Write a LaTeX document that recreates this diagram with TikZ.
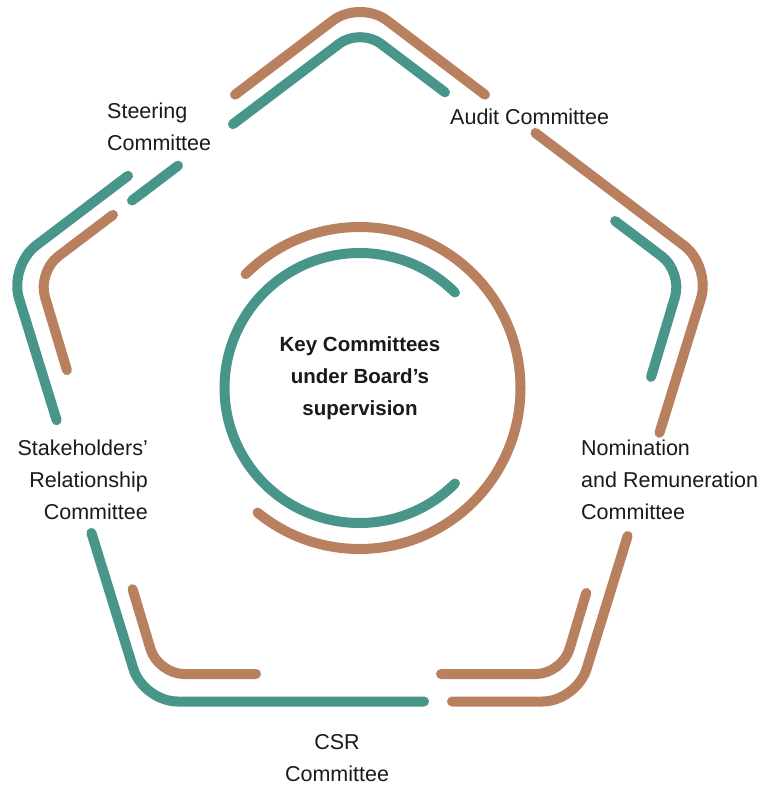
\documentclass[tikz,border=0pt]{standalone}
\usepackage{fontspec}
\setmainfont{Liberation Sans}
\usetikzlibrary{calc}
\definecolor{teal1}{HTML}{48968A}
\definecolor{brown1}{HTML}{B98060}
\definecolor{txt}{HTML}{1A1A1A}
\begin{document}
\begin{tikzpicture}[x=1pt,y=-1pt, line cap=round,
  tline/.style={draw=teal1, line width=10pt},
  bline/.style={draw=brown1, line width=10pt},
  lab/.style={font=\fontsize{21.5}{32}\selectfont, text=txt, inner sep=0pt}]
\fill[white] (0,0) rectangle (762,787);
\useasboundingbox (0,0) rectangle (762,787);
% outer pentagon corners
\coordinate (T) at (360,0);
\coordinate (R) at (711,266);
\coordinate (BR) at (576.5,701.5);
\coordinate (BL) at (143.5,701.5);
\coordinate (L) at (9,266);
% inner pentagon corners
\coordinate (Ti) at (360,28);
\coordinate (Ri) at (682.5,272);
\coordinate (BRi) at (562,674);
\coordinate (BLi) at (158,674);
\coordinate (Li) at (37.5,272);
% outer segments
\draw[bline, rounded corners=34pt] ($(L)!0.644!(T)$) -- (T) -- ($(R)!0.644!(T)$);
\draw[bline, rounded corners=34pt] ($(T)!0.5!(R)$) -- (R) -- ($(R)!0.383!(BR)$);
\draw[bline, rounded corners=34pt] ($(R)!0.62!(BR)$) -- (BR) -- ($(BR)!0.2875!(BL)$);
\draw[tline, rounded corners=34pt] ($(BR)!0.352!(BL)$) -- (BL) -- ($(BL)!0.387!(L)$);
\draw[tline, rounded corners=34pt] ($(L)!0.354!(BL)$) -- (L) -- ($(L)!0.339!(T)$);
% inner segments
\draw[tline, rounded corners=26pt] ($(Li)!0.606!(Ti)$) -- (Ti) -- ($(Ti)!0.2636!(Ri)$);
\draw[tline] ($(Li)!0.293!(Ti)$) -- ($(Li)!0.4357!(Ti)$);
\draw[bline, rounded corners=26pt] ($(Li)!0.234!(Ti)$) -- (Li) -- ($(Li)!0.244!(BLi)$);
\draw[bline, rounded corners=26pt] ($(Li)!0.789!(BLi)$) -- (BLi) -- ($(BLi)!0.2426!(BRi)$);
\draw[bline, rounded corners=26pt] ($(BLi)!0.7005!(BRi)$) -- (BRi) -- ($(BRi)!0.2015!(Ri)$);
\draw[tline, rounded corners=26pt] ($(Ti)!0.791!(Ri)$) -- (Ri) -- ($(Ri)!0.261!(BRi)$);
% circles
\coordinate (C) at (359.5,388);
\draw[tline] ($(C)+(45:135)$) arc[start angle=45, end angle=315, radius=135];
\draw[bline] ($(C)+(-135:161)$) arc[start angle=-135, end angle=129.3, radius=161];
% labels
\node[lab, anchor=west, align=left] (steer) at (107,127) {Steering\\Committee};
\node[lab, anchor=west] (audit) at (450,117) {Audit Committee};
\node[lab, anchor=west, align=left] (nom) at (581,480) {Nomination\\and Remuneration\\Committee};
\node[lab, anchor=east, align=right] (stake) at (148,480) {Stakeholders’\\Relationship\\Committee};
\node[lab, align=center] (csr) at (337,758) {CSR\\Committee};
\node[lab, font=\bfseries\fontsize{20.5}{32}\selectfont, align=center] (key) at (360,378) {Key Committees\\under Board’s\\supervision};
\end{tikzpicture}
\end{document}
